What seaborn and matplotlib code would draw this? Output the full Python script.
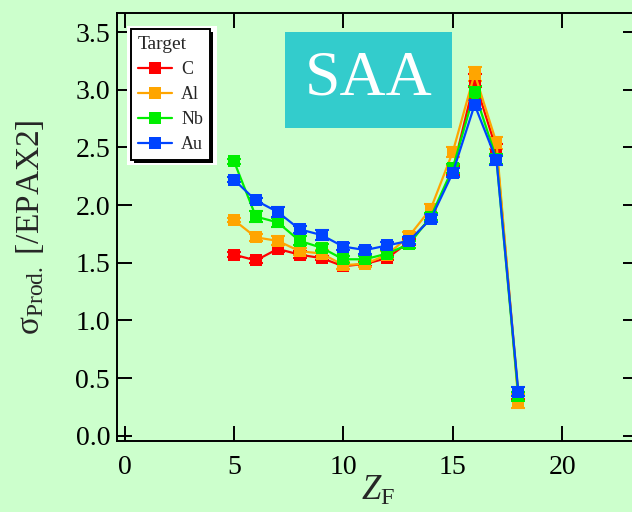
import numpy as np
import pandas as pd
import matplotlib
matplotlib.use("Agg")
import matplotlib.pyplot as plt
from matplotlib.lines import Line2D
from matplotlib.patches import Rectangle
import seaborn as sns

# data
z_f = [5, 6, 7, 8, 9, 10, 11, 12, 13, 14, 15, 16, 17, 18]
targets = ["C", "Al", "Nb", "Au"]
sigma_c = [1.57, 1.52, 1.62, 1.57, 1.54, 1.47, 1.49, 1.54, 1.68, 1.89, 2.30, 3.08, 2.48, 0.35]
sigma_al = [1.87, 1.72, 1.69, 1.60, 1.58, 1.48, 1.49, 1.57, 1.73, 1.97, 2.46, 3.14, 2.54, 0.30]
sigma_nb = [2.38, 1.90, 1.85, 1.69, 1.63, 1.53, 1.53, 1.58, 1.66, 1.90, 2.32, 2.98, 2.40, 0.34]
sigma_au = [2.22, 2.04, 1.94, 1.79, 1.74, 1.64, 1.61, 1.65, 1.69, 1.88, 2.28, 2.87, 2.39, 0.38]
err_c = [0.02, 0.02, 0.03, 0.03, 0.02, 0.02, 0.02, 0.02, 0.03, 0.03, 0.04, 0.06, 0.05, 0.03]
err_al = [0.02, 0.03, 0.04, 0.03, 0.03, 0.03, 0.03, 0.03, 0.04, 0.04, 0.04, 0.06, 0.05, 0.06]
err_nb = [0.02, 0.05, 0.04, 0.04, 0.03, 0.03, 0.03, 0.03, 0.03, 0.03, 0.04, 0.05, 0.04, 0.04]
err_au = [0.02, 0.02, 0.04, 0.03, 0.04, 0.03, 0.03, 0.03, 0.03, 0.03, 0.04, 0.04, 0.04, 0.04]
colors = {"C": "#ff0000", "Al": "#ffa500", "Nb": "#00ee00", "Au": "#0044ff"}

df = pd.DataFrame({
    "Z": z_f * 4,
    "sigma": sigma_c + sigma_al + sigma_nb + sigma_au,
    "err": err_c + err_al + err_nb + err_au,
    "Target": sum([[t] * len(z_f) for t in targets], []),
})

bg = "#ccffcc"
sns.set_theme(style="ticks")
plt.rcParams["font.family"] = ["Liberation Serif", "DejaVu Serif"]
plt.rcParams["mathtext.fontset"] = "custom"
plt.rcParams["mathtext.rm"] = "Liberation Serif"
plt.rcParams["mathtext.it"] = "Liberation Serif:italic"

fig = plt.figure(figsize=(6.32, 5.12), dpi=100, facecolor=bg)
# axes runs a little past the right edge, like the cropped original
ax = fig.add_axes([117 / 632, 1 - 441 / 512, 521 / 632, 428 / 512])
ax.set_facecolor(bg)

for t in targets:
    d = df[df["Target"] == t]
    ax.errorbar(d["Z"], d["sigma"], yerr=d["err"], fmt="none",
                ecolor=colors[t], elinewidth=1.2, capsize=5, capthick=1.5, zorder=2)
sns.lineplot(data=df, x="Z", y="sigma", hue="Target", palette=colors,
             hue_order=targets, marker="s", markersize=8, markeredgewidth=0,
             linewidth=1.6, legend=False, ax=ax, zorder=3)

ax.set_xlim(-0.35, 23.47)
ax.set_ylim(-0.046, 3.666)
ax.set_xticks([0, 5, 10, 15, 20])
ax.set_yticks(np.arange(0, 3.51, 0.5))
ax.yaxis.set_major_formatter(matplotlib.ticker.FormatStrFormatter("%.1f"))
ax.tick_params(direction="in", length=11, width=1.4, top=True, right=True,
               labelsize=20, colors="black")
ax.tick_params(axis="x", pad=10)
ax.tick_params(axis="y", pad=5)
for s in ax.spines.values():
    s.set_linewidth(1.4)
    s.set_color("black")

ax.set_xlabel(r"$Z_{\mathrm{F}}$", fontsize=25, labelpad=-4)
ax.set_ylabel(r"σ$_{\mathrm{Prod.}}$ [/EPAX2]", fontsize=24)
ax.yaxis.set_label_coords(-0.137, 0.5)

# SAA label box
ax.add_patch(Rectangle((7.33, 2.67), 7.65, 0.83, facecolor="#33cccc",
                       edgecolor="none", zorder=1))
ax.text(11.15, 3.085, "SAA", color="white", fontsize=46, ha="center",
        va="center", zorder=1.5)

# legend with white surround and a thin drop shadow
ax.add_patch(Rectangle((10 / 521, (441 - 165) / 428), 90 / 521, 139 / 428,
                       transform=ax.transAxes, facecolor="white",
                       edgecolor="none", zorder=4))
handles = [Line2D([0], [0], color=colors[t], lw=1.6, marker="s", markersize=9,
                  markeredgewidth=0) for t in targets]
leg = ax.legend(handles, targets, title="Target", loc="upper left",
                bbox_to_anchor=(14 / 521, 1 - 16 / 428), borderaxespad=0,
                fontsize=13, title_fontsize=14, frameon=True, fancybox=False,
                edgecolor="black", facecolor="white", framealpha=1,
                handlelength=1.9, handletextpad=0.5, labelspacing=0.45,
                alignment="left", borderpad=0.38)
leg.get_frame().set_linewidth(1.4)
leg.set_zorder(6)

fig.canvas.draw()
bb = leg.get_window_extent()
ax.add_patch(Rectangle((bb.x0 + 3, bb.y0 - 3), bb.width, bb.height,
                       transform=None, facecolor="black", edgecolor="none",
                       zorder=5))

fig.savefig("out.png", dpi=100, facecolor=bg)
